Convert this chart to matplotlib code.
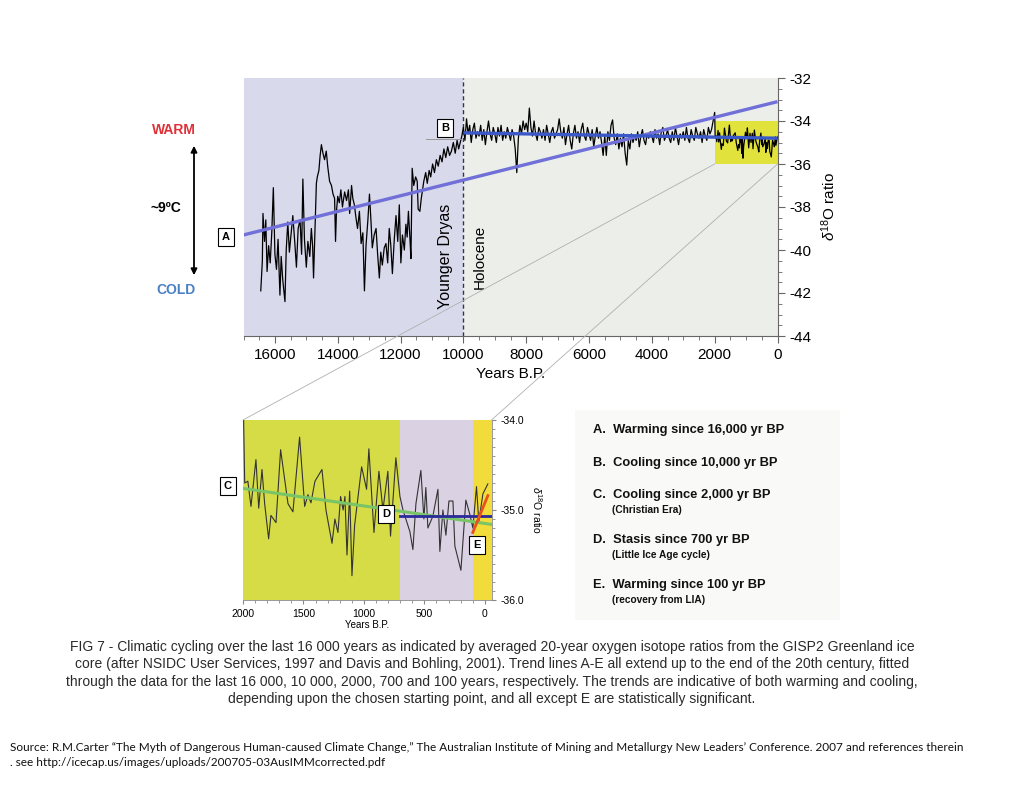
import numpy as np
import matplotlib
matplotlib.use("Agg")
import matplotlib.pyplot as plt
from matplotlib.patches import ConnectionPatch, Rectangle
from matplotlib.ticker import MultipleLocator

plt.rcParams['font.family'] = ['Liberation Sans', 'DejaVu Sans']
plt.rcParams['mathtext.fontset'] = 'custom'
plt.rcParams['mathtext.rm'] = 'Liberation Sans'
plt.rcParams['mathtext.it'] = 'Liberation Sans:italic'
plt.rcParams['axes.unicode_minus'] = False

# --- dados: GISP2 d18O, anos B.P. ---
anos_glacial = [16450, 16400, 16380, 16330, 16290, 16250, 16200, 16150, 16100, 16050,
                16000, 15950, 15900, 15840, 15800, 15750, 15680, 15640, 15590, 15540,
                15480, 15430, 15370, 15315, 15260, 15200, 15150, 15110, 15060, 15000,
                14950, 14890, 14840, 14800, 14770, 14720, 14680, 14650, 14600, 14560,
                14520, 14470, 14420, 14365, 14320, 14260, 14200, 14150, 14100, 14070,
                14040, 14000, 13950, 13900, 13850, 13780, 13720, 13660, 13620, 13560,
                13520, 13470, 13420, 13370, 13310, 13255, 13200, 13150, 13100, 13040,
                12990, 12940, 12900, 12840, 12780, 12730, 12675, 12630, 12580, 12520,
                12465, 12410, 12360, 12310, 12260, 12200, 12145, 12090, 12040, 11990,
                11940, 11880, 11830, 11790, 11750, 11700, 11670, 11630, 11580, 11520,
                11470, 11440, 11385, 11340, 11310, 11260, 11200, 11150, 11090, 11040,
                10980, 10920, 10860, 10800, 10740, 10680, 10620, 10560, 10500, 10440,
                10380, 10320, 10260, 10200, 10150, 10100, 10050]
d18o_glacial = [-41.9, -40.5, -38.3, -39.6, -38.6, -41.0, -39.8, -40.6, -39.2, -37.1,
                -40.2, -40.9, -39.5, -42.1, -40.3, -41.4, -42.4, -40.0, -38.7, -40.1,
                -39.2, -38.4, -39.6, -40.8, -39.0, -38.6, -40.2, -36.7, -39.5, -40.8,
                -39.6, -40.3, -39.0, -39.8, -41.3, -38.8, -36.9, -36.6, -36.3, -35.6,
                -35.1, -35.5, -35.8, -35.4, -36.1, -36.8, -37.0, -37.4, -37.6, -39.6,
                -38.2, -37.5, -37.8, -37.2, -38.0, -37.3, -37.7, -37.2, -38.3, -37.0,
                -37.6, -37.9, -38.5, -39.0, -38.2, -39.7, -39.2, -41.9, -39.8, -38.6,
                -37.4, -38.7, -39.9, -39.3, -39.0, -40.2, -41.3, -40.1, -40.7, -39.9,
                -39.7, -40.6, -39.0, -39.8, -41.1, -39.5, -38.4, -39.6, -37.9, -40.6,
                -39.3, -40.0, -38.8, -39.4, -38.2, -39.5, -40.4, -36.2, -37.0, -36.6,
                -36.8, -38.1, -38.2, -37.6, -37.3, -36.8, -36.4, -36.9, -36.3, -36.6,
                -36.0, -36.4, -35.8, -36.1, -35.6, -35.9, -35.3, -35.7, -35.2, -35.6,
                -35.4, -35.0, -35.5, -34.9, -35.3, -35.0, -34.7]

# Holoceno de 10000 a 2050 anos B.P., passo de 50 anos
anos_holoceno = list(range(10000, 2000, -50))
d18o_holoceno = [-34.3, -34.9, -33.9, -34.6, -34.2, -35.0, -34.4, -34.1, -34.8, -34.5,
                 -34.7, -34.2, -34.9, -34.4, -35.1, -34.5, -34.0, -34.6, -34.9, -34.3,
                 -34.6, -35.0, -34.3, -34.7, -34.2, -34.9, -34.5, -34.8, -34.3, -34.6,
                 -34.9, -34.4, -34.7, -35.3, -36.4, -34.8, -34.2, -34.6, -34.0, -34.4,
                 -34.1, -34.5, -33.4, -34.3, -34.7, -34.0, -34.6, -34.9, -34.3, -34.5,
                 -34.8, -34.4, -34.9, -34.2, -34.6, -35.0, -34.5, -34.3, -34.8, -34.6,
                 -34.4, -33.9, -34.5, -34.8, -34.3, -35.1, -34.6, -34.2, -34.9, -35.3,
                 -34.6, -34.2, -34.8, -34.5, -35.0, -34.4, -34.1, -34.7, -34.9, -34.3,
                 -34.6, -34.9, -34.4, -35.2, -34.7, -34.3, -34.8, -34.5, -35.0, -35.6,
                 -34.7, -35.6, -34.5, -34.9, -34.2, -33.95, -34.8, -35.1, -34.6, -35.3,
                 -34.8, -35.2, -34.6, -35.5, -36.05, -34.9, -35.3, -34.6, -35.0, -34.7,
                 -34.9, -34.5, -35.2, -34.7, -34.4, -34.9, -35.1, -34.6, -34.8, -34.5,
                 -34.7, -35.0, -34.4, -34.8, -34.6, -35.1, -34.5, -34.3, -34.9, -34.7,
                 -34.4, -34.8, -35.0, -34.5, -34.9, -34.3, -34.7, -35.1, -34.6, -34.8,
                 -34.5, -34.9, -34.3, -34.8, -35.0, -34.4, -34.7, -34.9, -34.3, -34.6,
                 -34.8, -34.5, -35.0, -34.4, -34.7, -34.9, -34.3, -34.6, -34.4, -34.0]

# ultimos 2000 anos (grafico de baixo)
anos_recentes = [2000, 1986, 1960, 1934, 1893, 1870, 1843, 1821, 1788, 1769,
                 1727, 1689, 1628, 1587, 1532, 1490, 1463, 1438, 1405, 1347,
                 1314, 1264, 1240, 1215, 1193, 1172, 1157, 1140, 1118, 1099,
                 1077, 1019, 978, 959, 917, 876, 843, 802, 780, 736,
                 702, 677, 620, 595, 570, 529, 504, 488, 471, 430,
                 388, 372, 347, 322, 297, 264, 248, 198, 157, 124,
                 99, 69, 50, 16, -25]
d18o_recentes = [-33.6, -34.70, -34.68, -34.96, -34.44, -34.98, -34.55, -34.93, -35.32, -35.06,
                 -35.14, -34.33, -34.93, -35.02, -34.19, -34.96, -34.83, -34.92, -34.68, -34.55,
                 -35.00, -35.37, -35.10, -35.25, -34.85, -35.00, -34.85, -35.50, -34.79, -35.73,
                 -35.17, -34.52, -34.77, -34.32, -35.25, -34.57, -35.00, -34.57, -35.29, -34.42,
                 -34.85, -35.00, -35.24, -35.44, -34.93, -34.56, -35.10, -34.75, -35.20, -35.07,
                 -34.77, -35.46, -35.00, -35.28, -34.90, -34.90, -35.40, -35.67, -34.89, -35.05,
                 -35.20, -34.74, -35.13, -34.82, -34.71]

# linhas de tendencia A-E (inicio, fim)
tend_a_anos, tend_a_vals = [17000, 0], [-39.3, -33.1]
tend_b_anos, tend_b_vals = [10000, 0], [-34.55, -34.8]
tend_c_anos, tend_c_vals = [2000, -55], [-34.76, -35.16]
tend_d_anos, tend_d_vals = [700, -55], [-35.07, -35.07]
tend_e_anos, tend_e_vals = [100, -25], [-35.25, -34.84]

legenda = [("A.  Warming since 16,000 yr BP", None),
           ("B.  Cooling since 10,000 yr BP", None),
           ("C.  Cooling since 2,000 yr BP", "(Christian Era)"),
           ("D.  Stasis since 700 yr BP", "(Little Ice Age cycle)"),
           ("E.  Warming since 100 yr BP", "(recovery from LIA)")]

legenda_y = [430, 463, 495, 540, 585]

legenda_texto = ("FIG 7 - Climatic cycling over the last 16 000 years as indicated by averaged 20-year oxygen isotope ratios from the GISP2 Greenland ice\n"
                 "core (after NSIDC User Services, 1997 and Davis and Bohling, 2001). Trend lines A-E all extend up to the end of the 20th century, fitted\n"
                 "through the data for the last 16 000, 10 000, 2000, 700 and 100 years, respectively. The trends are indicative of both warming and cooling,\n"
                 "depending upon the chosen starting point, and all except E are statistically significant.")

fonte_texto = ("Source: R.M.Carter \u201cThe Myth of Dangerous Human-caused Climate Change,\u201d The Australian Institute of Mining and Metallurgy New Leaders\u2019 Conference. 2007 and references therein\n"
               ". see http://icecap.us/images/uploads/200705-03AusIMMcorrected.pdf")

W, H = 1024, 791


def fx(px):
    return px / W


def fy(py):
    return 1 - py / H


fig = plt.figure(figsize=(W / 100, H / 100), dpi=100)

# ---------------- grafico de cima ----------------
ax1 = fig.add_axes([fx(243.5), fy(336), (777.5 - 243.5) / W, (336 - 78) / H])
ax1.axvspan(17000, 10000, color='#d9d9ec', lw=0, zorder=0)
ax1.axvspan(10000, 0, color='#eceeea', lw=0, zorder=0)
ax1.add_patch(Rectangle((2000, -36), -2000, 2, color='#e2e23c', lw=0, zorder=0.5))
ax1.axvline(10000, color='#333355', lw=1, ls=(0, (3, 2)), zorder=1)

anos_todos = anos_glacial + anos_holoceno + anos_recentes
d18o_todos = d18o_glacial + d18o_holoceno + d18o_recentes
ax1.plot(anos_todos, d18o_todos, color='black', lw=0.9, zorder=2)
ax1.plot(tend_a_anos, tend_a_vals, color='#7070d8', lw=2.4, zorder=3, solid_capstyle='butt')
ax1.plot(tend_b_anos, tend_b_vals, color='#3a58c8', lw=2.4, zorder=3, solid_capstyle='butt')

ax1.set_xlim(17000, 0)
ax1.set_ylim(-44, -32)
ax1.set_facecolor('none')
for lado in ['top', 'left']:
    ax1.spines[lado].set_visible(False)
for lado in ['bottom', 'right']:
    ax1.spines[lado].set_color('#666666')
    ax1.spines[lado].set_linewidth(0.8)
ax1.yaxis.tick_right()
ax1.yaxis.set_label_position('right')
ax1.set_xticks(range(16000, -1, -2000))
ax1.xaxis.set_minor_locator(MultipleLocator(500))
ax1.set_yticks(range(-44, -31, 2))
ax1.yaxis.set_minor_locator(MultipleLocator(0.5))
ax1.tick_params(which='both', direction='out', color='#666666', labelsize=11)
ax1.tick_params(which='major', length=5)
ax1.tick_params(which='minor', length=3)
ax1.set_xlabel('Years B.P.', fontsize=11, labelpad=4)
ax1.set_ylabel(r'$\delta^{18}$O ratio', fontsize=11, labelpad=6)

ax1.text(10570, -40.3, 'Younger Dryas', rotation=90, ha='center', va='center', fontsize=11.5)
ax1.text(9470, -40.3, 'Holocene', rotation=90, ha='center', va='center', fontsize=11)

# ---------------- grafico de baixo ----------------
ax2 = fig.add_axes([fx(243), fy(600), (491.5 - 243) / W, (600 - 420) / H])
ax2.axvspan(2000, 700, color='#d6dc46', lw=0, zorder=0)
ax2.axvspan(700, 100, color='#dad1e2', lw=0, zorder=0)
ax2.axvspan(100, -55, color='#f2dc3c', lw=0, zorder=0)
ax2.plot(anos_recentes, d18o_recentes, color='#333333', lw=0.8, zorder=2)
ax2.plot(tend_c_anos, tend_c_vals, color='#78c466', lw=2.2, zorder=3)
ax2.plot(tend_d_anos, tend_d_vals, color='#2a2a9a', lw=2.0, zorder=3)
ax2.plot(tend_e_anos, tend_e_vals, color='#e8501e', lw=2.0, zorder=4)
ax2.set_xlim(2000, -55)
ax2.set_ylim(-36, -34)
for lado in ['top', 'left']:
    ax2.spines[lado].set_visible(False)
for lado in ['bottom', 'right']:
    ax2.spines[lado].set_color('#888888')
    ax2.spines[lado].set_linewidth(0.6)
ax2.yaxis.tick_right()
ax2.yaxis.set_label_position('right')
ax2.set_xticks([2000, 1500, 1000, 500, 0])
ax2.xaxis.set_minor_locator(MultipleLocator(100))
ax2.set_yticks([-36, -35, -34])
ax2.set_yticklabels(['-36.0', '-35.0', '-34.0'])
ax2.yaxis.set_minor_locator(MultipleLocator(0.1))
ax2.tick_params(which='both', direction='out', color='#888888', labelsize=7.5)
ax2.tick_params(which='major', length=3)
ax2.tick_params(which='minor', length=2)
ax2.set_xlabel('Years B.P.', fontsize=7, labelpad=1)
ax2.set_ylabel(r'$\delta^{18}$O ratio', fontsize=7.5, rotation=270, labelpad=14)

# linhas ligando o zoom
for (xa, ya), (xb, yb) in [((2000, -36), (0, 1)), ((0, -36), (1, 1))]:
    con = ConnectionPatch(xyA=(xa, ya), coordsA=ax1.transData,
                          xyB=(xb, yb), coordsB=ax2.transAxes,
                          color='#b0b0b0', lw=0.6, zorder=5)
    fig.add_artist(con)

# caixas de letras
caixa = dict(boxstyle='square,pad=0.35', fc='white', ec='black', lw=0.8)
fig.text(fx(226), fy(237), 'A', ha='center', va='center', fontsize=8, fontweight='bold', bbox=caixa)
fig.text(fx(445), fy(128), 'B', ha='center', va='center', fontsize=8, fontweight='bold', bbox=caixa, zorder=6)
fig.add_artist(plt.Line2D([fx(426), fx(461)], [fy(139), fy(139)], color='#999999', lw=0.7, zorder=4))
fig.text(fx(228), fy(486), 'C', ha='center', va='center', fontsize=8, fontweight='bold', bbox=caixa)
fig.text(fx(386), fy(514), 'D', ha='center', va='center', fontsize=8, fontweight='bold', bbox=caixa, zorder=6)
fig.text(fx(477), fy(545), 'E', ha='center', va='center', fontsize=8, fontweight='bold', bbox=caixa, zorder=6)

# quente / frio
fig.text(fx(174), fy(130), 'WARM', ha='center', va='center', fontsize=10, fontweight='bold', color='#e03038')
fig.text(fx(176), fy(290), 'COLD', ha='center', va='center', fontsize=10, fontweight='bold', color='#4a80c4')
fig.text(fx(166), fy(208), '~9\u00baC', ha='center', va='center', fontsize=10, fontweight='bold')
fig.add_artist(matplotlib.patches.FancyArrowPatch((fx(194), fy(143)), (fx(194), fy(278)),
                                                  transform=fig.transFigure, arrowstyle='<|-|>',
                                                  mutation_scale=9, color='black', lw=1.3))

# painel da legenda
fig.add_artist(Rectangle((fx(575), fy(620)), (840 - 575) / W, (620 - 410) / H,
                         transform=fig.transFigure, fc='#f9f9f7', ec='none', zorder=0))
for (linha, sub), y in zip(legenda, legenda_y):
    fig.text(fx(593), fy(y), linha, ha='left', va='center', fontsize=9.3, fontweight='bold', color='#111111')
    if sub:
        fig.text(fx(612), fy(y + 15), sub, ha='left', va='center', fontsize=7.3, fontweight='bold', color='#111111')

# legenda da figura e fonte
fig.text(fx(492), fy(673), legenda_texto, ha='center', va='center', fontsize=10,
         color='#2a2a2a', linespacing=1.28)
fig.text(fx(10), fy(755), fonte_texto, ha='left', va='center', fontsize=8.5,
         family=['Lato', 'DejaVu Sans'], color='#111111', linespacing=1.35)

fig.savefig('out.png', dpi=100, facecolor='white')
